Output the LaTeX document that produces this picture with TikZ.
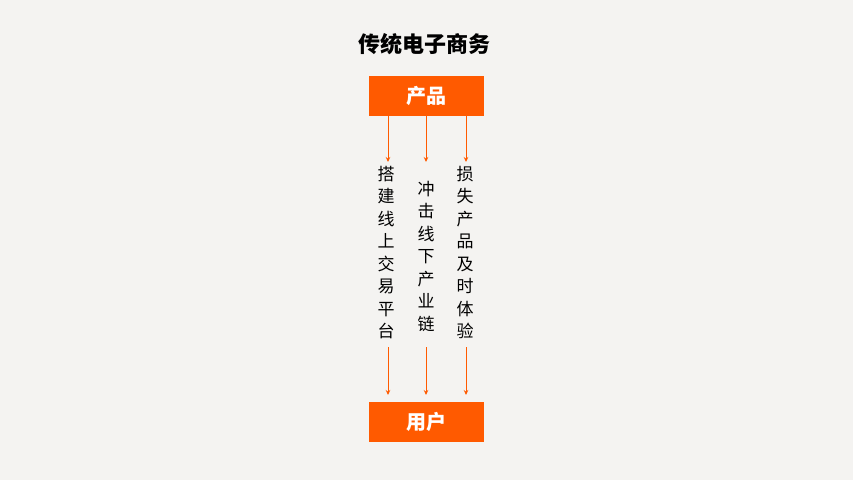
\documentclass[tikz,border=0pt]{standalone}
\usepackage{fontspec}
\newfontfamily\cjk{Noto Sans CJK SC}
\usetikzlibrary{arrows.meta}
\definecolor{bg}{HTML}{F4F3F1}
\definecolor{org}{HTML}{FF5A00}
\begin{document}
\begin{tikzpicture}[x=1pt,y=-1pt,
  box/.style={fill=org,draw=none,minimum width=115pt,minimum height=40pt,inner sep=0pt,text=white,font=\cjk\fontsize{20}{24}\selectfont\bfseries},
  col/.style={align=center,inner sep=0pt,anchor=north,font=\cjk\fontsize{17}{22.5}\selectfont,text=black},
  arr/.style={draw=org,line width=0.9pt,-{Stealth[length=5pt,width=4.5pt]}}]
\fill[bg] (0,0) rectangle (853,480);
\useasboundingbox (0,0) rectangle (853,480);
\node[font=\cjk\fontsize{22}{26}\selectfont\bfseries] (title) at (424,44) {传统电子商务};
\node[box] (prod) at (426.5,96) {产品};
\node[box] (user) at (426.5,422) {用户};
\node[col] (c1) at (386,166) {搭\\建\\线\\上\\交\\易\\平\\台};
\node[col] (c2) at (426,181) {冲\\击\\线\\下\\产\\业\\链};
\node[col] (c3) at (465,166) {损\\失\\产\\品\\及\\时\\体\\验};
\foreach \i/\x in {1/388,2/426,3/466}{
  \coordinate (a\i) at (\x,116);
  \coordinate (b\i) at (\x,162);
  \coordinate (d\i) at (\x,347);
  \coordinate (e\i) at (\x,395);
  \draw[arr] (a\i) -- (b\i);
  \draw[arr] (d\i) -- (e\i);
}
\end{tikzpicture}
\end{document}
